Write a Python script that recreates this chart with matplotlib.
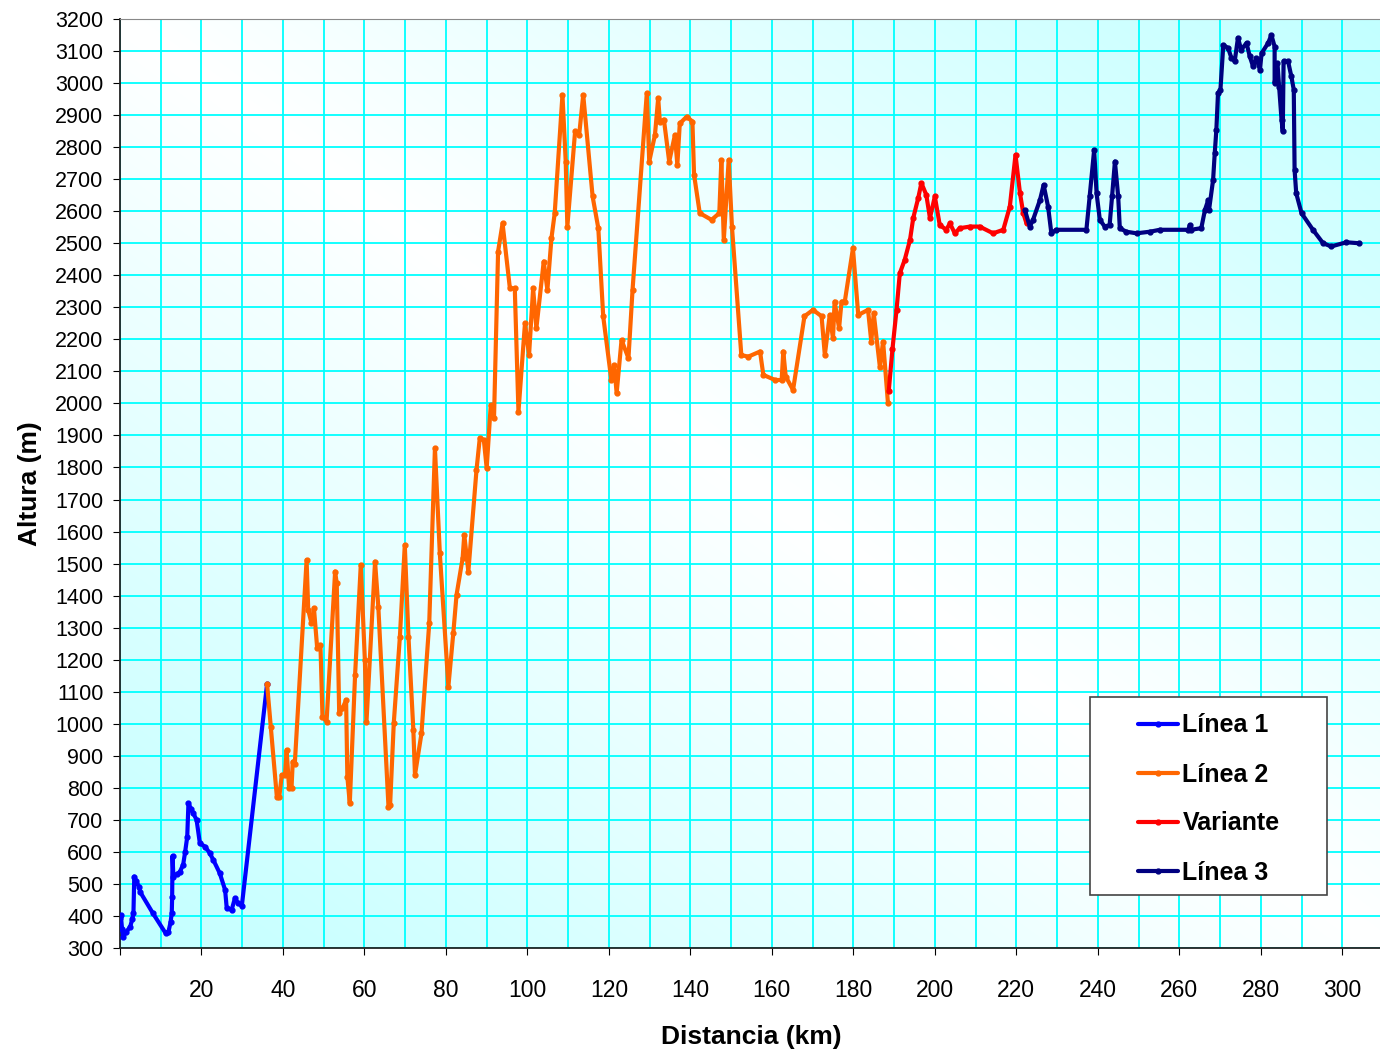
import numpy as np
import matplotlib.pyplot as plt
from matplotlib.patches import Rectangle

plt.rcParams['font.family'] = ['Liberation Sans', 'DejaVu Sans']

# Perfil de altura por tramos (distancia en km, altura en m)
linea1_km = [0.0, 0.2, 0.5, 0.8, 1.5, 2.5, 3.0, 3.3, 3.5, 3.9, 4.7, 4.9,
             8.0, 11.2, 11.9, 12.4, 12.7, 12.8, 12.9, 13.1, 14.0, 14.7, 15.5,
             16.0, 16.5, 16.8, 17.4, 18.0, 18.8, 19.6, 20.9, 22.0, 22.9,
             24.5, 25.8, 26.2, 27.4, 28.2, 29.0, 29.9, 36.1]
linea1_alt = [395, 403, 360, 335, 350, 366, 390, 408, 523, 510, 491, 476,
              410, 346, 351, 380, 408, 460, 587, 523, 530, 538, 560,
              601, 647, 752, 735, 720, 700, 627, 616, 597, 575,
              533, 481, 424, 419, 455, 440, 431, 1124]

linea2_km = [36.1, 37.0, 38.5, 39.1, 39.7, 40.5, 40.9, 41.5, 42.1, 42.4, 42.9,
             45.8, 46.2, 47.0, 47.6, 48.4, 49.2, 49.7, 50.7, 52.8, 53.2, 53.8,
             54.6, 55.5, 55.8, 56.4, 57.7, 59.1, 60.1, 60.5, 62.6, 63.4, 65.9,
             66.3, 67.2, 68.7, 69.9, 70.8, 72.0, 72.4, 74.0, 75.9, 77.3, 78.5,
             80.6, 81.8, 82.6, 84.1, 84.5, 85.5, 87.5, 88.3, 89.3, 90.0, 91.0,
             91.8, 92.8, 93.9, 95.7, 96.9, 97.8, 99.4, 100.4, 101.4, 102.2,
             104.0, 104.9, 105.9, 106.7, 108.6, 109.4, 109.8, 111.7, 112.7,
             113.7, 116.0, 117.4, 118.6, 120.6, 121.3, 121.9, 123.1, 124.8,
             125.8, 129.3, 129.9, 131.3, 132.1, 132.5, 133.5, 134.8, 136.2,
             136.8, 137.4, 139.1, 140.5, 140.9, 142.3, 145.2, 147.1, 147.6,
             148.2, 149.4, 150.2, 152.5, 154.2, 157.1, 157.9, 160.8, 162.4,
             162.8, 163.4, 165.2, 168.0, 170.1, 172.2, 173.0, 174.2, 175.0,
             175.4, 176.5, 177.1, 177.9, 179.9, 181.2, 183.6, 184.4, 185.0,
             186.5, 187.3, 188.5]
linea2_alt = [1124, 991, 772, 772, 840, 840, 918, 799, 799, 882, 874,
              1511, 1355, 1314, 1361, 1236, 1246, 1022, 1007, 1475, 1438, 1033,
              1048, 1074, 835, 752, 1152, 1496, 1199, 1007, 1506, 1366, 741,
              747, 1003, 1272, 1558, 1272, 981, 840, 970, 1314, 1860, 1532,
              1116, 1282, 1402, 1517, 1590, 1475, 1792, 1891, 1886, 1798, 1995,
              1954, 2474, 2562, 2359, 2359, 1974, 2250, 2151, 2359, 2235,
              2443, 2354, 2516, 2594, 2963, 2755, 2552, 2849, 2838,
              2963, 2646, 2547, 2272, 2073, 2120, 2032, 2198, 2141,
              2354, 2968, 2755, 2838, 2953, 2880, 2886, 2755, 2838,
              2745, 2874, 2895, 2880, 2714, 2594, 2573, 2594, 2760,
              2510, 2760, 2552, 2151, 2146, 2162, 2089, 2073, 2073,
              2162, 2084, 2042, 2272, 2292, 2272, 2151, 2276, 2203,
              2318, 2235, 2318, 2318, 2484, 2276, 2292, 2193, 2281,
              2115, 2193, 2000]

variante_km = [188.7, 189.6, 190.6, 191.4, 192.6, 193.9, 194.7, 195.9, 196.7,
               197.9, 198.8, 200.0, 201.2, 202.8, 203.7, 204.9, 206.1, 208.6,
               211.0, 214.3, 216.8, 218.4, 219.8, 220.9, 221.7, 222.5]
variante_alt = [2040, 2170, 2292, 2406, 2448, 2510, 2579, 2640, 2688,
                2651, 2579, 2646, 2557, 2542, 2562, 2531, 2547, 2552,
                2552, 2531, 2542, 2614, 2776, 2656, 2594, 2562]

linea3_km = [222.1, 223.3, 224.1, 225.8, 226.7, 227.8, 228.6, 229.8, 237.2,
             238.0, 239.1, 239.7, 240.5, 241.7, 242.9, 243.5, 244.2, 245.0,
             245.4, 247.0, 249.5, 252.8, 255.2, 262.2, 262.6, 262.8, 265.4,
             266.3, 267.1, 267.3, 268.3, 268.7, 269.1, 269.5, 270.1, 270.8,
             272.0, 272.8, 273.6, 274.4, 275.2, 276.5, 277.3, 278.1, 278.9,
             279.8, 280.2, 281.8, 282.6, 283.4, 283.4, 284.1, 284.5, 285.1,
             285.4, 285.6, 286.7, 287.5, 288.1, 288.3, 288.7, 290.0, 292.8,
             295.3, 297.3, 301.0, 304.1]
linea3_alt = [2604, 2552, 2573, 2635, 2682, 2614, 2531, 2542, 2542,
              2646, 2791, 2656, 2573, 2552, 2557, 2646, 2755, 2646,
              2547, 2536, 2531, 2536, 2542, 2542, 2557, 2542, 2547,
              2604, 2635, 2604, 2698, 2781, 2854, 2968, 2979, 3119,
              3109, 3078, 3068, 3141, 3104, 3125, 3083, 3052, 3078,
              3041, 3093, 3125, 3150, 3114, 3000, 3062, 2989, 2885,
              2849, 3068, 3068, 3021, 2979, 2729, 2656, 2594, 2542,
              2500, 2490, 2503, 2500]

series = [
    ("Línea 1", linea1_km, linea1_alt, "#0000ff"),
    ("Línea 2", linea2_km, linea2_alt, "#ff6600"),
    ("Variante", variante_km, variante_alt, "#ff0000"),
    ("Línea 3", linea3_km, linea3_alt, "#000080"),
]

fig = plt.figure(figsize=(13.8, 10.55), dpi=100)
ax = fig.add_axes([120 / 1380, 1 - 948 / 1055, 1263 / 1380, 929 / 1055])

# fondo degradado diagonal (cian en esquinas, blanco al centro)
u, v = np.meshgrid(np.linspace(0, 1, 300), np.linspace(1, 0, 300))
t = np.abs((u + v) / 2 - 0.5) * 2
edge = np.array([0.76, 1.0, 1.0])
img = 1 - t[..., None] * (1 - edge)
ax.imshow(img, extent=[0, 1, 0, 1], transform=ax.transAxes, aspect='auto',
          zorder=0, interpolation='bilinear')

handles = []
for name, km, alt, col in series:
    h, = ax.plot(km, alt, color=col, lw=3.0, marker='o', markersize=3.5,
                 label=name, zorder=3, solid_joinstyle='round',
                 solid_capstyle='round')
    handles.append(h)

ax.set_xlim(0, 310)
ax.set_ylim(300, 3200)
ax.set_xticks(np.arange(0, 301, 20))
ax.set_xticklabels([''] + [str(x) for x in range(20, 301, 20)])
ax.set_xticks(np.arange(0, 311, 10), minor=True)
ax.set_yticks(np.arange(300, 3201, 100))
ax.grid(True, which='both', color='#00ffff', lw=1.3, zorder=1)
ax.set_axisbelow(True)
ax.tick_params(axis='x', which='minor', length=0)
ax.tick_params(axis='x', which='major', labelsize=16.5, length=5, pad=17)
ax.tick_params(axis='y', labelsize=15.5, length=5, pad=7)

for s in ['left', 'bottom']:
    ax.spines[s].set_color('#222222')
    ax.spines[s].set_linewidth(1.3)
ax.spines['top'].set_color('#888888')
ax.spines['right'].set_visible(False)

ax.set_xlabel("Distancia (km)", fontsize=19, fontweight='bold', labelpad=17)
ax.set_ylabel("Altura (m)", fontsize=19, fontweight='bold', labelpad=9)

# caja de la leyenda
fig.patches.append(Rectangle((1090 / 1380, 1 - 895 / 1055), 237 / 1380, 198 / 1055,
                             transform=fig.transFigure, facecolor='white',
                             edgecolor='#444444', lw=1.2, zorder=5))
leg = fig.legend(handles=handles, loc='upper left',
                 bbox_to_anchor=(1125 / 1380, 1 - 701 / 1055), frameon=False,
                 prop={'size': 18, 'weight': 'bold'}, handlelength=1.6,
                 handletextpad=0.2, labelspacing=1.0, borderpad=0)
leg.set_zorder(6)

fig.savefig("out.png", dpi=100)
